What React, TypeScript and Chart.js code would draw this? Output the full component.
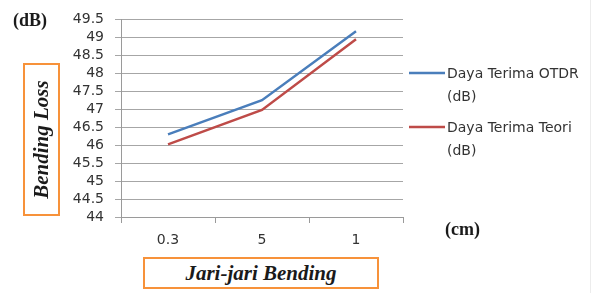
import React, { useEffect, useRef } from "react";
import { Chart, registerables } from "chart.js";

Chart.register(...registerables);

const categories = ["0.3", "5", "1"];
const otdrValues = [46.3, 47.25, 49.17];
const teoriValues = [46.02, 46.98, 48.95];
const seriesLabels = ["Daya Terima OTDR (dB)", "Daya Terima Teori (dB)"];
const yMin = 44;
const yMax = 49.5;
const yStep = 0.5;

const legendPlugin = {
  id: "sideLegend",
  afterDraw(chart: any) {
    const ctx = chart.ctx;
    const rows = [73, 127];
    ctx.save();
    chart.data.datasets.forEach((ds: any, i: number) => {
      const y = rows[i];
      ctx.strokeStyle = ds.borderColor;
      ctx.lineWidth = 2.5;
      ctx.beginPath();
      ctx.moveTo(409, y);
      ctx.lineTo(445, y);
      ctx.stroke();
      const label: string = ds.label;
      const idx = label.lastIndexOf(" (");
      const lines = idx > 0 ? [label.slice(0, idx), label.slice(idx + 1)] : [label];
      ctx.fillStyle = "#333333";
      ctx.font = "14px 'DejaVu Sans'";
      ctx.textBaseline = "middle";
      ctx.textAlign = "left";
      lines.forEach((ln, j) => ctx.fillText(ln, 447, y + 1 + j * 23.5));
    });
    ctx.strokeStyle = "#ececec";
    ctx.lineWidth = 1;
    ctx.beginPath();
    ctx.moveTo(590.5, 0);
    ctx.lineTo(590.5, 293);
    ctx.stroke();
    ctx.restore();
  },
};

export default function App() {
  const ref = useRef<HTMLCanvasElement | null>(null);
  useEffect(() => {
    if (!ref.current) return;
    const chart = new Chart(ref.current, {
      type: "line",
      data: {
        labels: categories,
        datasets: [
          {
            label: seriesLabels[0],
            data: otdrValues,
            borderColor: "#4a7ebb",
            borderWidth: 2.5,
            pointRadius: 0,
            tension: 0,
          },
          {
            label: seriesLabels[1],
            data: teoriValues,
            borderColor: "#be4b48",
            borderWidth: 2.5,
            pointRadius: 0,
            tension: 0,
          },
        ],
      },
      options: {
        responsive: false,
        animation: false,
        layout: { padding: { top: 16, right: 192, left: 0, bottom: 0 } },
        plugins: { legend: { display: false }, tooltip: { enabled: false } },
        scales: {
          x: {
            offset: true,
            grid: {
              offset: true,
              drawOnChartArea: false,
              drawTicks: true,
              tickLength: 6,
              color: "#9a9a9a",
            },
            border: { color: "#9a9a9a", width: 1 },
            ticks: {
              color: "#333333",
              font: { family: "'DejaVu Sans'", size: 14 },
              padding: 9,
            },
            afterFit: (s: any) => {
              s.height = 76;
            },
          },
          y: {
            min: yMin,
            max: yMax,
            ticks: {
              stepSize: yStep,
              autoSkip: false,
              color: "#333333",
              font: { family: "'DejaVu Sans'", size: 14 },
              padding: 11,
              callback: (v: any) => String(v),
            },
            grid: { color: "#a6a6a6", tickLength: 6, drawTicks: true },
            border: { color: "#9a9a9a", width: 1 },
            afterFit: (s: any) => {
              s.width = 121;
            },
          },
        },
      },
      plugins: [legendPlugin],
    });
    return () => chart.destroy();
  }, []);

  const serifBold: React.CSSProperties = {
    position: "absolute",
    fontFamily: "'Liberation Serif', 'Times New Roman', serif",
    fontWeight: "bold",
    color: "#1a1a1a",
    whiteSpace: "nowrap",
  };
  const box: React.CSSProperties = {
    position: "absolute",
    boxSizing: "border-box",
    border: "2px solid #f7923a",
    background: "#fff",
    display: "flex",
    alignItems: "center",
    justifyContent: "center",
  };

  return (
    <div style={{ position: "absolute", left: 0, top: 0, width: 595, height: 293, background: "#fff" }}>
      <canvas ref={ref} width={595} height={293} style={{ position: "absolute", left: 0, top: 0 }} />
      <div style={{ ...serifBold, left: 13, top: 11, fontSize: 18, lineHeight: "18px" }}>(dB)</div>
      <div style={{ ...serifBold, left: 445, top: 220, fontSize: 18, lineHeight: "18px" }}>(cm)</div>
      <div style={{ ...box, left: 23, top: 63, width: 37, height: 153 }}>
        <div
          style={{
            ...serifBold,
            position: "static",
            fontStyle: "italic",
            fontSize: 21,
            transform: "rotate(-90deg)",
          }}
        >
          Bending Loss
        </div>
      </div>
      <div style={{ ...box, left: 143, top: 257, width: 236, height: 32 }}>
        <div style={{ ...serifBold, position: "static", fontStyle: "italic", fontSize: 21 }}>
          Jari-jari Bending
        </div>
      </div>
    </div>
  );
}
